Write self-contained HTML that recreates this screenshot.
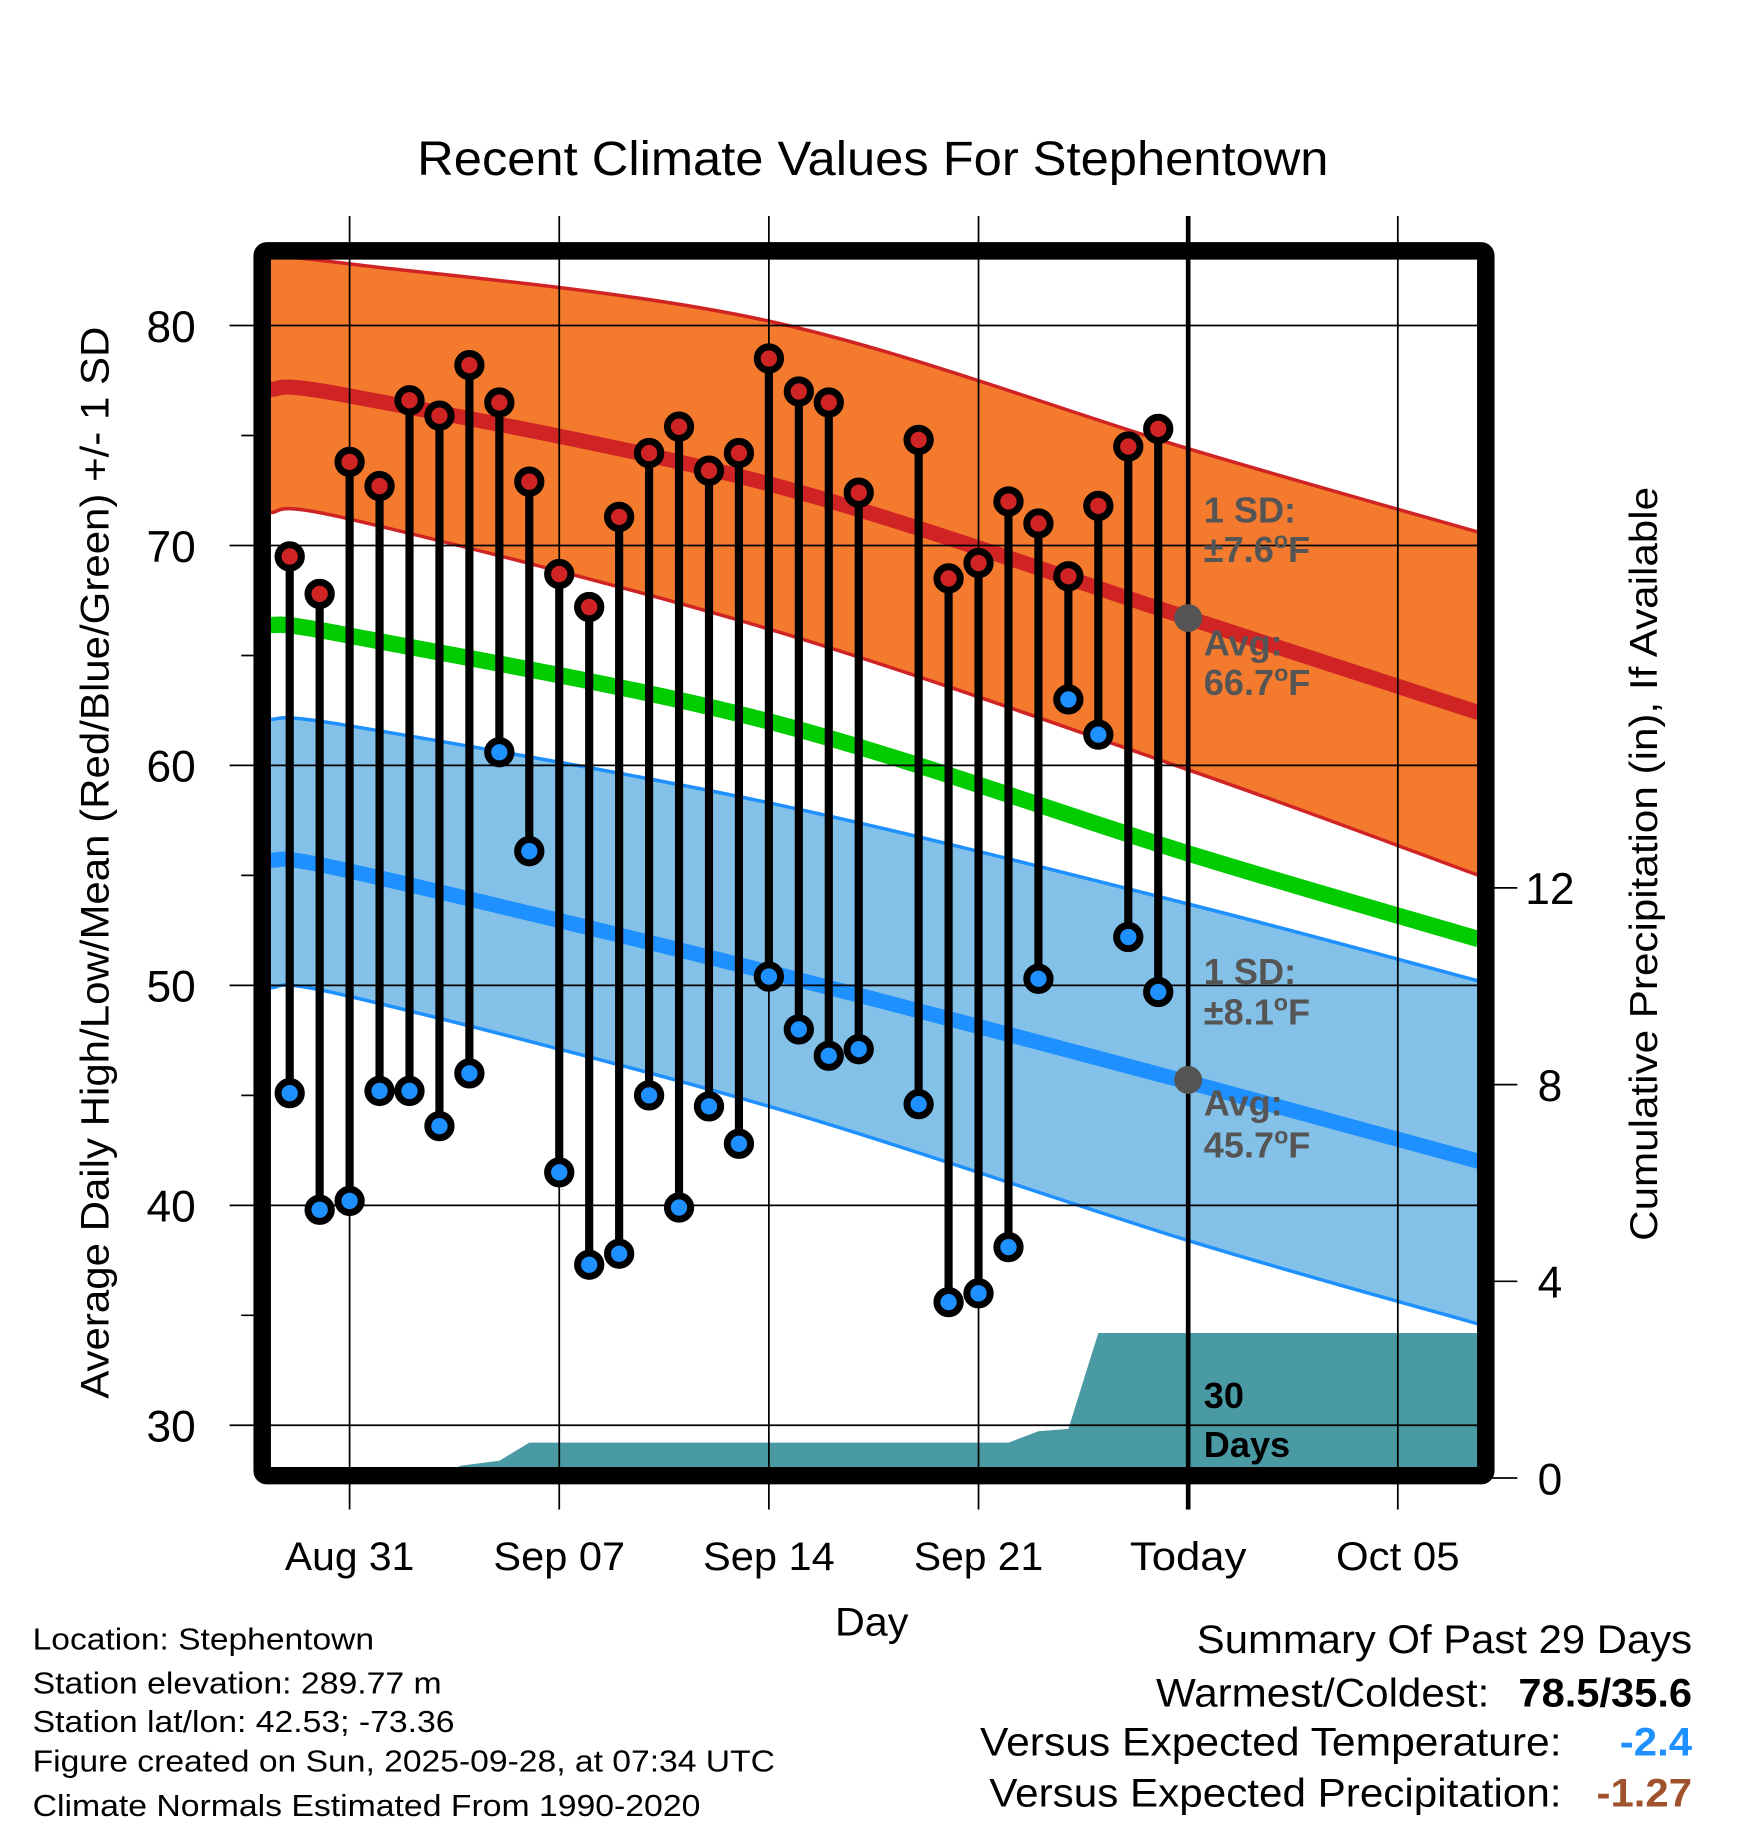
<!DOCTYPE html>
<html><head><meta charset="utf-8"><style>
html,body{margin:0;padding:0;background:#fff;}
svg{display:block;font-family:"Liberation Sans",Arial,sans-serif;}
</style></head><body>
<svg id="chart" width="1748" height="1828" viewBox="0 0 1500 1568" xmlns="http://www.w3.org/2000/svg">
<text x="749" y="150" font-size="41" text-anchor="middle" textLength="782" lengthAdjust="spacingAndGlyphs">Recent Climate Values For Stephentown</text>
<g id="plot"></g>
<text transform="translate(93,740) rotate(-90)" font-size="34" text-anchor="middle" textLength="920" lengthAdjust="spacingAndGlyphs">Average Daily High/Low/Mean (Red/Blue/Green) +/- 1 SD</text>
<text transform="translate(1422,741) rotate(-90)" font-size="33" text-anchor="middle" textLength="647" lengthAdjust="spacingAndGlyphs">Cumulative Precipitation (in), If Available</text>
<text x="748" y="1403" font-size="34" text-anchor="middle" textLength="63" lengthAdjust="spacingAndGlyphs">Day</text>
<g font-size="26" lengthAdjust="spacingAndGlyphs">
<text x="28" y="1415" textLength="293" lengthAdjust="spacingAndGlyphs">Location: Stephentown</text>
<text x="28" y="1453" textLength="351" lengthAdjust="spacingAndGlyphs">Station elevation: 289.77 m</text>
<text x="28" y="1486" textLength="362" lengthAdjust="spacingAndGlyphs">Station lat/lon: 42.53; -73.36</text>
<text x="28" y="1520" textLength="637" lengthAdjust="spacingAndGlyphs">Figure created on Sun, 2025-09-28, at 07:34 UTC</text>
<text x="28" y="1558" textLength="573" lengthAdjust="spacingAndGlyphs">Climate Normals Estimated From 1990-2020</text>
</g>
<g font-size="34">
<text x="1027" y="1418" textLength="425" lengthAdjust="spacingAndGlyphs">Summary Of Past 29 Days</text>
<text x="992" y="1464" textLength="286" lengthAdjust="spacingAndGlyphs">Warmest/Coldest:</text>
<text x="1303" y="1464" font-weight="bold" textLength="149" lengthAdjust="spacingAndGlyphs">78.5/35.6</text>
<text x="841" y="1506" textLength="499" lengthAdjust="spacingAndGlyphs">Versus Expected Temperature:</text>
<text x="1390" y="1506" font-weight="bold" fill="#1e90ff" textLength="62" lengthAdjust="spacingAndGlyphs">-2.4</text>
<text x="849" y="1550" textLength="491" lengthAdjust="spacingAndGlyphs">Versus Expected Precipitation:</text>
<text x="1370" y="1550" font-weight="bold" fill="#a0522d" textLength="82" lengthAdjust="spacingAndGlyphs">-1.27</text>
</g>
</svg>
<script>
// ---- data ----
const days = [-2,-1,0,1,2,3,4,5,6,7,8,9,10,11,12,13,14,15,16,17,19,20,21,22,23,24,25,26,27]; // days since Aug 31
const highs = [69.5,67.8,73.8,72.7,76.6,75.9,78.2,76.5,72.9,68.7,67.2,71.3,74.2,75.4,73.4,74.2,78.5,77.0,76.5,72.4,74.8,68.5,69.2,72.0,71.0,68.6,71.8,74.5,75.3];
const lows  = [45.1,39.8,40.2,45.2,45.2,43.6,46.0,60.6,56.1,41.5,37.3,37.8,45.0,39.9,44.5,42.8,50.4,48.0,46.8,47.1,44.6,35.6,36.0,38.1,50.3,63.0,61.4,52.2,49.7];
const normDays = [-2.65,0,14,28,37.7];
const hiMean = [77.1,76.8,72.8,66.7,62.4];
const hiUp   = [83.1,82.8,80.2,74.4,70.6];
const hiLo   = [71.5,71.2,66.2,59.8,55.0];
const meanN  = [66.4,65.9,62.0,56.0,52.1];
const loMean = [55.7,55.2,50.6,45.6,42.0];
const loUp   = [62.1,61.8,58.3,53.7,50.2];
const loLo   = [49.9,49.5,44.5,38.4,34.6];
const precipDays = [-2.65,3,3.7,5,6,22,23,24,25,37.7];
const precipCum  = [0,0,0.25,0.35,0.72,0.72,0.95,1.0,2.95,2.95];
const xTickDays = [0,7,14,21,28,35];
const xTickLabels = ["Aug 31","Sep 07","Sep 14","Sep 21","Today","Oct 05"];
const xTickWidths = [111,113,113,111,100,106];
const yTicks = [30,40,50,60,70,80];
const y2Ticks = [0,4,8,12];
const todayDay = 28;

// ---- scales ----
const X0=232,X1=1268,Y0=222,Y1=1260;
const x = d => 300 + d*25.7;
const y = t => 279 + (80-t)*18.875;
const yp = p => 1268 - p*42.2;
const NS="http://www.w3.org/2000/svg";
const plot=document.getElementById('plot');
function mk(tag,attrs,parent){const e=document.createElementNS(NS,tag);for(const k in attrs)e.setAttribute(k,attrs[k]);(parent||plot).appendChild(e);return e;}
const defs=mk('defs',{});
const cp=mk('clipPath',{id:'clip'},defs);mk('rect',{x:X0,y:Y0,width:X1-X0,height:Y1-Y0},cp);
const g=mk('g',{'clip-path':'url(#clip)'});


// smooth path (Catmull-Rom) through normal samples
function smooth(arr,rev){
  let P=normDays.map((d,i)=>[x(d),y(arr[i])]);
  if(rev)P=P.slice().reverse();
  let s='';
  for(let i=0;i<P.length-1;i++){
    const p0=P[Math.max(i-1,0)],p1=P[i],p2=P[i+1],p3=P[Math.min(i+2,P.length-1)];
    const c1=[p1[0]+(p2[0]-p0[0])/6,p1[1]+(p2[1]-p0[1])/6];
    const c2=[p2[0]-(p3[0]-p1[0])/6,p2[1]-(p3[1]-p1[1])/6];
    s+=' C'+c1.join(',')+' '+c2.join(',')+' '+p2.join(',');
  }
  return {start:P[0],seg:s};
}
function pathOf(arr){const a=smooth(arr,false);return 'M'+a.start.join(',')+a.seg;}
function band(up,lo,fill,edge,name){
  const a=smooth(up,false),b=smooth(lo,true);
  const p=mk('path',{d:'M'+a.start.join(',')+a.seg+' L'+b.start.join(',')+b.seg+' Z',fill:fill},g);
  
  
  const u=mk('path',{d:pathOf(up),fill:'none',stroke:edge,'stroke-width':3},g);
  
  
  const l=mk('path',{d:pathOf(lo),fill:'none',stroke:edge,'stroke-width':3},g);
  
  
}
band(hiUp,hiLo,'#f47b2e','#d02424','high-sd-band');
band(loUp,loLo,'#84c1e8','#1e90ff','low-sd-band');
// precip
const pp=[x(precipDays[0])+','+yp(0)].concat(precipDays.map((d,i)=>x(d)+','+yp(precipCum[i]))).concat([x(precipDays[precipDays.length-1])+','+yp(0)]);
const pr=mk('polygon',{points:pp.join(' '),fill:'#4a9aa4'},g);


function line(arr,col,w,name){const l=mk('path',{d:pathOf(arr),fill:'none',stroke:col,'stroke-width':w},g);
  
  }
line(meanN,'#00cc00',14,'normal-mean-line');
line(hiMean,'#d02424',13,'normal-high-line');
line(loMean,'#1e90ff',13,'normal-low-line');
// grid
yTicks.forEach(t=>{const l=mk('line',{x1:197,x2:X1,y1:y(t),y2:y(t),stroke:'#000','stroke-width':1.5});
  
  
  const tx=mk('text',{x:168,y:y(t)+14,'font-size':38,'text-anchor':'end'});tx.textContent=t;
  
  });
[35,45,55,65,75].forEach(t=>{const l=mk('line',{x1:207,x2:X0,y1:y(t),y2:y(t),stroke:'#000','stroke-width':1.5});
  
  });
xTickDays.forEach((d,i)=>{const l=mk('line',{x1:x(d),x2:x(d),y1:185,y2:1295,stroke:'#000','stroke-width':d===todayDay?4:1.5});
  
  
  const tx=mk('text',{x:x(d)-xTickWidths[i]/2,y:1347,'font-size':34,textLength:xTickWidths[i],lengthAdjust:'spacingAndGlyphs'});tx.textContent=xTickLabels[i];
  
  });
y2Ticks.forEach(p=>{const l=mk('line',{x1:1275,x2:1302,y1:yp(p),y2:yp(p),stroke:'#000','stroke-width':1.5});
  
  
  const tx=mk('text',{x:1330,y:yp(p)+14,'font-size':38,'text-anchor':'middle'});tx.textContent=p;
  
  });
// stems & dots
days.forEach((d,i)=>{
  const s=mk('line',{x1:x(d),x2:x(d),y1:y(highs[i]),y2:y(lows[i]),stroke:'#000','stroke-width':7});
  
  
  [[highs[i],'#d02424','high-point'],[lows[i],'#1e90ff','low-point']].forEach(([v,c,n])=>{
    const o=mk('circle',{cx:x(d),cy:y(v),r:10,fill:c,stroke:'#000','stroke-width':6});
    
    
  });
});
// today markers
[[66.7],[45.7]].forEach(([v])=>{const c=mk('circle',{cx:x(todayDay),cy:y(v),r:12,fill:'#555'});
  
  });
function ann(txt,yy,col,name){const t=mk('text',{x:1033,y:yy,'font-size':31,'font-weight':'bold',fill:col});t.innerHTML=txt;
  
  }
ann('1 SD:',448,'#555','high-sd-label');
ann('±7.6<tspan dy="-12" font-size="20">o</tspan><tspan dy="12">F</tspan>',482,'#555','high-sd-value');
ann('Avg:',562,'#555','high-avg-label');
ann('66.7<tspan dy="-12" font-size="20">o</tspan><tspan dy="12">F</tspan>',596,'#555','high-avg-value');
ann('1 SD:',844,'#555','low-sd-label');
ann('±8.1<tspan dy="-12" font-size="20">o</tspan><tspan dy="12">F</tspan>',879,'#555','low-sd-value');
ann('Avg:',957,'#555','low-avg-label');
ann('45.7<tspan dy="-12" font-size="20">o</tspan><tspan dy="12">F</tspan>',993,'#555','low-avg-value');
ann('30',1208,'#000','precip-days-label');
ann('Days',1250,'#000','precip-days-unit');
// frame
const fr=mk('rect',{x:225,y:215,width:1050,height:1051,fill:'none',stroke:'#000','stroke-width':15,rx:4});


</script>
</body></html>
